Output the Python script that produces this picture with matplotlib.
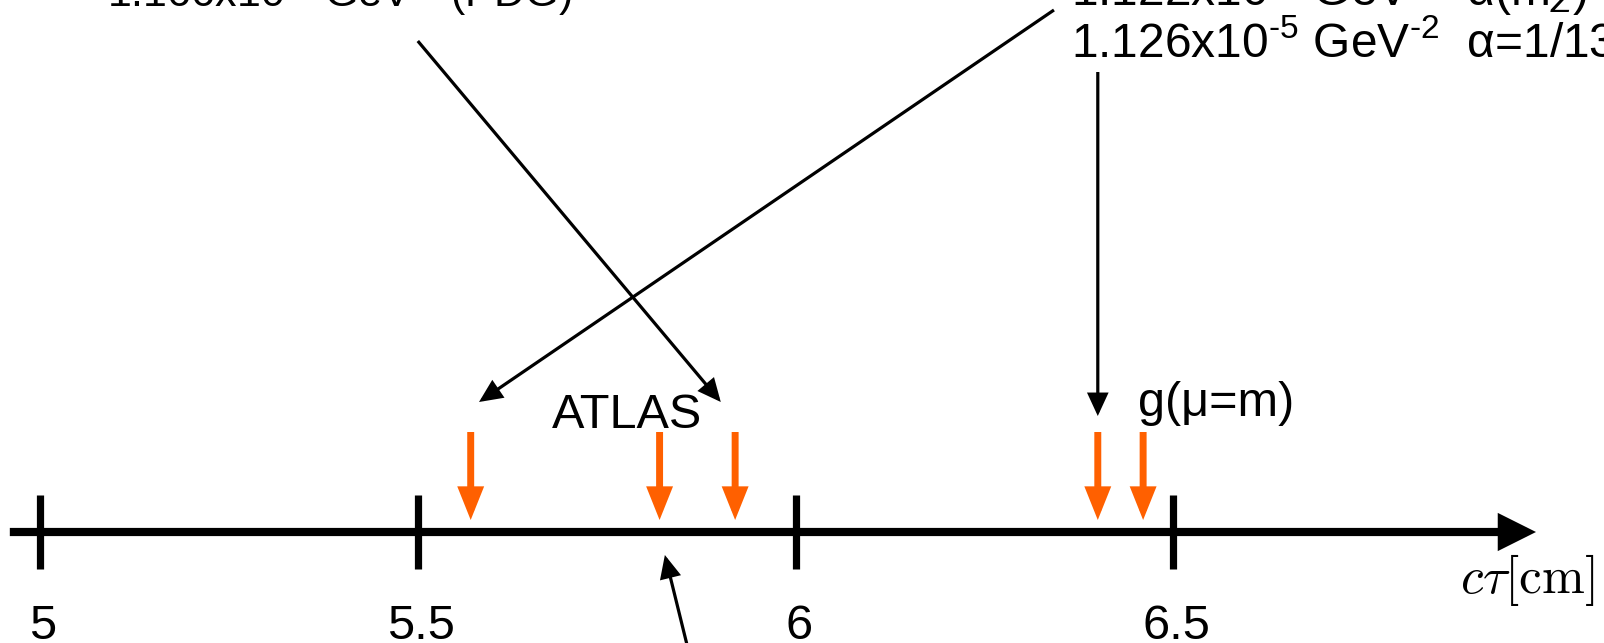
import matplotlib
matplotlib.use("Agg")
import matplotlib.pyplot as plt

plt.rcParams['font.family'] = ['Liberation Sans', 'DejaVu Sans']
plt.rcParams['mathtext.fontset'] = 'custom'
plt.rcParams['mathtext.rm'] = 'Liberation Sans'
plt.rcParams['mathtext.it'] = 'Liberation Sans:italic'
plt.rcParams['mathtext.bf'] = 'Liberation Sans:bold'

# c*tau axis (cm)
ct_ticks = [5, 5.5, 6, 6.5]
tick_labels = ['5', '5.5', '6', '6.5']
# predicted / measured c*tau values (orange markers)
ct_values = [5.57, 5.82, 5.92, 6.40, 6.46]

orange = '#ff6000'
fs = 35

fig = plt.figure(figsize=(16.04, 6.43), dpi=100)
ax = fig.add_axes([0, 0, 1, 1])
ax.set_xlim(4.947, 7.070)
ax.set_ylim(643, 0)
ax.axis('off')

# main axis with arrow head
ax.annotate('', xy=(6.980, 532), xytext=(4.960, 532),
            arrowprops=dict(arrowstyle='-|>,head_length=0.9,head_width=0.45',
                            color='black', lw=5.9, mutation_scale=20,
                            shrinkA=0, shrinkB=0, joinstyle='miter',
                            capstyle='butt'))
for t, lab in zip(ct_ticks, tick_labels):
    ax.plot([t, t], [495, 569], color='black', lw=5.2, solid_capstyle='butt')
    ax.text(t + 0.004, 639, lab, fontsize=fs, ha='center', va='baseline')

ax.text(7.057, 593, r'$c\tau[\mathrm{cm}]$', fontsize=37, ha='right',
        va='baseline', math_fontfamily='cm')

# orange markers
for v in ct_values:
    ax.annotate('', xy=(v, 520), xytext=(v, 432),
                arrowprops=dict(arrowstyle='-|>,head_length=0.75,head_width=0.3',
                                color=orange, lw=5.0, mutation_scale=20,
                                shrinkA=0, shrinkB=0, joinstyle='miter',
                                capstyle='butt'))

ax.text(5.678, 428, 'ATLAS', fontsize=fs, ha='left', va='baseline')
ax.text(6.453, 416, 'g(μ=m)', fontsize=fs, ha='left', va='baseline')

# top labels (partly outside the frame)
ax.text(5.089, 7, r'1.166x10$^{\text{-5}}$ GeV$^{\text{-2}}$ (PDG)', fontsize=31,
        ha='left', va='baseline')
ax.text(6.365, 5, r'1.122x10$^{\text{-5}}$ GeV$^{\text{-2}}$  α(m$_Z$)=1/128',
        fontsize=34.5, ha='left', va='baseline')
ax.text(6.365, 57, r'1.126x10$^{\text{-5}}$ GeV$^{\text{-2}}$  α=1/137',
        fontsize=34.5, ha='left', va='baseline')

# black pointers
pointers = [((5.500, 41), (5.901, 402)),
            ((6.342, 10), (5.581, 402)),
            ((6.400, 72), (6.400, 416)),
            ((5.858, 650), (5.827, 555))]
for start, end in pointers:
    ax.annotate('', xy=end, xytext=start,
                arrowprops=dict(arrowstyle='-|>,head_length=0.65,head_width=0.3',
                                color='black', lw=2.3, mutation_scale=20,
                                shrinkA=0, shrinkB=0, joinstyle='miter',
                                capstyle='butt'))

fig.savefig('out.png', dpi=100, facecolor='white')
